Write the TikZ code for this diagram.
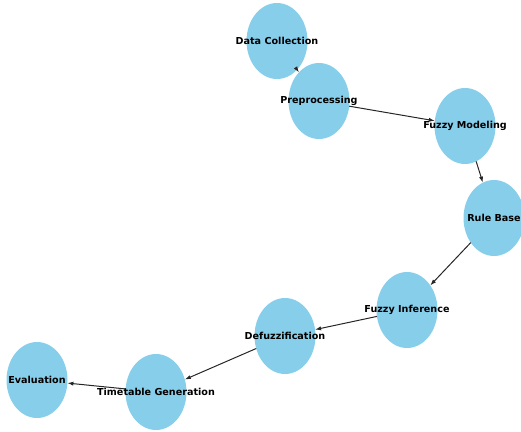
\documentclass[tikz,border=0pt]{standalone}
\usepackage{fontspec}
\setmainfont{DejaVu Sans}
\usetikzlibrary{shapes.geometric,arrows.meta}
\definecolor{skyblue}{HTML}{87CEEB}
\tikzset{
  stage/.style={ellipse, fill=skyblue, draw=none, minimum width=61pt, minimum height=76pt, inner sep=0pt, outer sep=0pt},
  stagetext/.style={font=\bfseries\fontsize{9.6}{11}\selectfont, text=black, inner sep=0pt},
  flow/.style={draw=black!85, line width=1pt, -{Latex[length=6pt,width=4.2pt]}, shorten >=0pt}
}
\begin{document}
\begin{tikzpicture}[x=1pt,y=-1pt]
\useasboundingbox (0,0) rectangle (521,431);
\node[stage] (dc) at (277,41) {};
\node[stage] (pp) at (319,101) {};
\node[stage] (fm) at (465,126) {};
\node[stage] (rb) at (494,218) {};
\node[stage] (fi) at (407,310) {};
\node[stage] (df) at (285,336) {};
\node[stage] (tg) at (156,392) {};
\node[stage] (ev) at (37,380) {};
\draw[flow] (dc) -- (pp);
\draw[flow] (pp) -- (fm);
\draw[flow] (fm) -- (rb);
\draw[flow] (rb) -- (fi);
\draw[flow] (fi) -- (df);
\draw[flow] (df) -- (tg);
\draw[flow] (tg) -- (ev);
\node[stagetext] (tdc) at (dc.center) {Data Collection};
\node[stagetext] (tpp) at (pp.center) {Preprocessing};
\node[stagetext] (tfm) at (fm.center) {Fuzzy Modeling};
\node[stagetext] (trb) at (rb.center) {Rule Base};
\node[stagetext] (tfi) at (fi.center) {Fuzzy Inference};
\node[stagetext] (tdf) at (df.center) {Defuzzification};
\node[stagetext] (ttg) at (tg.center) {Timetable Generation};
\node[stagetext] (tev) at (ev.center) {Evaluation};
\end{tikzpicture}
\end{document}
